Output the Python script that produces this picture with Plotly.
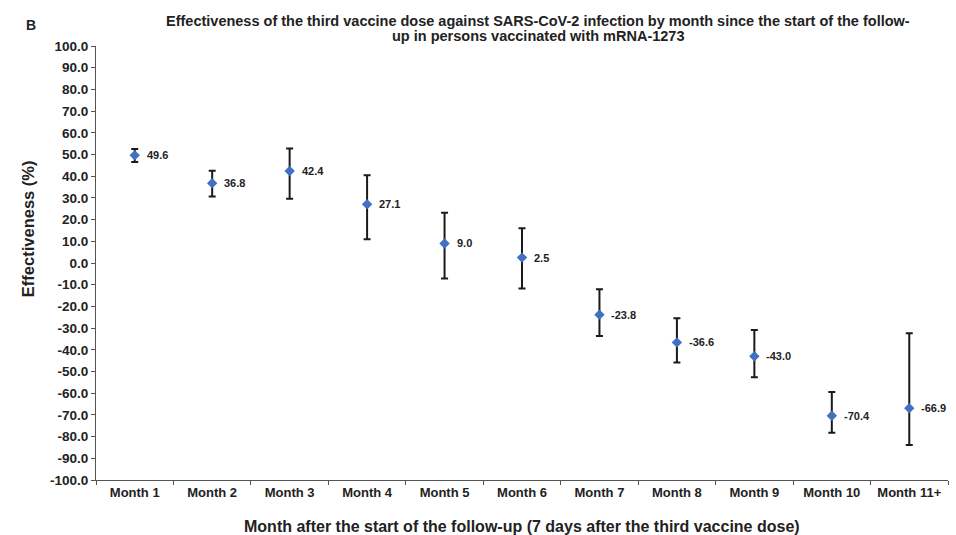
import plotly.graph_objects as go

months = ["Month 1", "Month 2", "Month 3", "Month 4", "Month 5", "Month 6",
          "Month 7", "Month 8", "Month 9", "Month 10", "Month 11+"]
effectiveness = [49.6, 36.8, 42.4, 27.1, 9.0, 2.5, -23.8, -36.6, -43.0, -70.4, -66.9]
ci_upper = [52.5, 42.5, 52.8, 40.4, 23.2, 16.0, -12.1, -25.5, -30.9, -59.4, -32.4]
ci_lower = [46.5, 30.6, 29.6, 10.9, -7.1, -11.7, -33.6, -45.9, -52.7, -78.2, -83.9]
y_ticks = list(range(-100, 101, 10))

err_plus = [u - v for u, v in zip(ci_upper, effectiveness)]
err_minus = [v - l for v, l in zip(effectiveness, ci_lower)]

FONT = "Liberation Sans, Arial, sans-serif"
TXT = "#222222"

fig = go.Figure()
fig.add_trace(go.Scatter(
    x=months, y=effectiveness, mode="markers",
    marker=dict(symbol="diamond", size=8, color="#4170C4"),
    error_y=dict(type="data", symmetric=False, array=err_plus, arrayminus=err_minus,
                 color="#1a1a1a", thickness=2, width=3.5),
    showlegend=False,
))

for m, v in zip(months, effectiveness):
    fig.add_annotation(x=m, y=v, text=f"<b>{v:.1f}</b>", showarrow=False,
                       xanchor="left", yanchor="middle", xshift=10,
                       font=dict(size=11, color=TXT, family=FONT))

fig.add_annotation(xref="paper", yref="paper", x=0, y=1, xshift=-65, yshift=21,
                   text="<b>B</b>", showarrow=False, xanchor="center", yanchor="middle",
                   font=dict(size=14, color=TXT, family=FONT))

# title (two lines, tight spacing)
title_lines = ["Effectiveness of the third vaccine dose against SARS-CoV-2 infection by month since the start of the follow-",
               "up in persons vaccinated with mRNA-1273"]
title_x = (538 - 96) / (956 - 96 - 8)
for line, ys in zip(title_lines, [25, 10]):
    fig.add_annotation(xref="paper", yref="paper", x=title_x, y=1, yshift=ys,
                       text=f"<b>{line}</b>", showarrow=False,
                       xanchor="center", yanchor="middle",
                       font=dict(size=14.5, color=TXT, family=FONT))

# axis titles
fig.add_annotation(xref="paper", yref="paper", x=0.5, y=0, yshift=-46,
                   text="<b>Month after the start of the follow-up (7 days after the third vaccine dose)</b>",
                   showarrow=False, xanchor="center", yanchor="middle",
                   font=dict(size=16, color=TXT, family=FONT))
fig.add_annotation(xref="paper", yref="paper", x=0, y=0.578, xshift=-68,
                   text="<b>Effectiveness (%)</b>", textangle=-90,
                   showarrow=False, xanchor="center", yanchor="middle",
                   font=dict(size=16.5, color=TXT, family=FONT))

fig.update_layout(
    width=956, height=535,
    margin=dict(l=96, r=8, t=46, b=55, autoexpand=False),
    paper_bgcolor="white", plot_bgcolor="white",
    font=dict(family=FONT, color=TXT),
)

fig.update_xaxes(
    type="category", range=[-0.5, len(months) - 0.5],
    showline=True, linecolor="#555555", linewidth=1,
    ticks="outside", tickson="boundaries", ticklen=4, tickcolor="#555555",
    tickfont=dict(size=13, family=FONT, color=TXT),
    tickvals=months, ticktext=[f"<b>{m}</b>" for m in months],
    showgrid=False, zeroline=False, automargin=False,
)
fig.update_yaxes(
    range=[-100, 100], showline=True, linecolor="#555555", linewidth=1,
    ticks="outside", ticklen=4, tickcolor="#555555",
    tickvals=y_ticks, ticktext=[f"<b>{t:.1f}</b>" for t in y_ticks],
    tickfont=dict(size=13.5, family=FONT, color=TXT),
    showgrid=False, zeroline=False, automargin=False,
)

fig.write_html("out.html", config={"displayModeBar": False},
               post_script="document.body.style.margin='0';")
